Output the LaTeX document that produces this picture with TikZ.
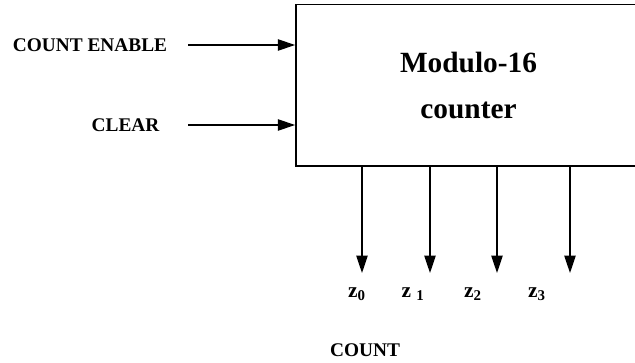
\documentclass[tikz,border=0pt]{standalone}
\usepackage{fontspec}
\setmainfont{Liberation Serif}
\usetikzlibrary{arrows.meta,positioning}

\begin{document}
\begin{tikzpicture}[
    x=0.75pt, y=-0.75pt,
    every node/.style={font=\bfseries\fontsize{14.5}{17}\selectfont, inner sep=0pt},
    blk/.style={draw, line width=1pt, minimum width=259pt, minimum height=121pt, align=center, font=\bfseries\fontsize{22}{35}\selectfont},
    arr/.style={-{Triangle[length=13pt,width=8.5pt]}, line width=1pt},
    outlbl/.style={anchor=base, font=\bfseries\fontsize{16}{18}\selectfont},
]
\useasboundingbox (0,0) rectangle (635,363);

% Counter block
\node (cnt) [blk] at (468.5,85.5) {Modulo-16\\counter};

% Inputs
\node (en) at (90,45) {COUNT ENABLE};
\node (clr) at (125.5,125) {CLEAR};
\coordinate (enin) at (188,45);
\coordinate (clrin) at (188,125);
\draw[arr] (enin) -- (enin -| cnt.west);
\draw[arr] (clrin) -- (clrin -| cnt.west);

% Count outputs
\foreach \i/\x/\lx/\txt in {0/362/357/{z\textsubscript{0}}, 1/430/413/{z \textsubscript{1}}, 2/497/473/{z\textsubscript{2}}, 3/570/537/{z\textsubscript{3}}} {
    \coordinate (o\i) at (\x,273);
    \draw[arr] (o\i |- cnt.south) -- (o\i);
    \node (z\i) [outlbl] at (\lx,297) {\txt};
}
\node (cntlbl) at (365,350) {COUNT};
\end{tikzpicture}
\end{document}
